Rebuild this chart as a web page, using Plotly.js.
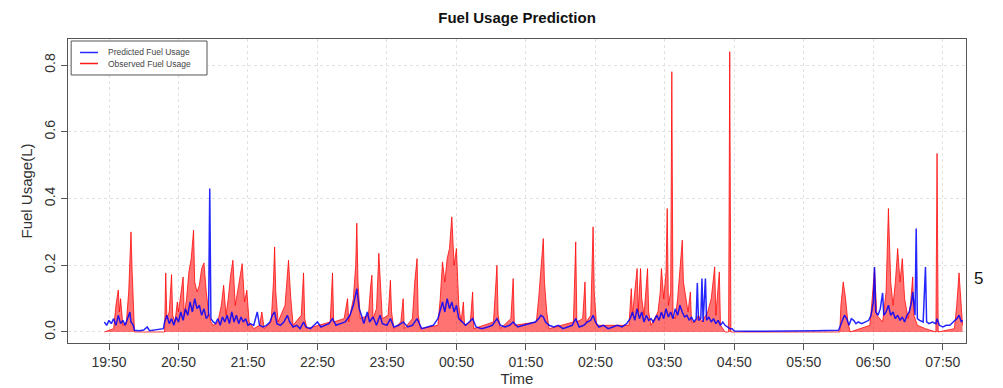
<!DOCTYPE html>
<html>
<head>
<meta charset="utf-8">
<script src="https://cdn.plot.ly/plotly-3.0.1.min.js"></script>
<style>html,body{margin:0;padding:0;background:#fff;}#chart{width:1003px;height:388px;}</style>
</head>
<body>
<div id="chart"></div>
<script>
// Observed fuel usage (red), key readings
const observedTimes = [
"19:46","19:54","19:56","19:58","19:59","20:00","20:02","20:05","20:07","20:09","20:10","20:11","20:12",
"20:38","20:39","20:40","20:42","20:44","20:45","20:47","20:49","20:50","20:52","20:54","20:55","20:57","20:59","21:01","21:03","21:04","21:06","21:08","21:10","21:12","21:14","21:16","21:18","21:20","21:24","21:27","21:29","21:31","21:33","21:35","21:37","21:39","21:41","21:43","21:45","21:47","21:49","21:51","21:55",
"22:00","22:02","22:04","22:10","22:12","22:13","22:14","22:16","22:22","22:24","22:25","22:27","22:29","22:36","22:38","22:39","22:41",
"23:01","23:03","23:04","23:13","23:16","23:17","23:21","23:23","23:24","23:25","23:27","23:34","23:36","23:37","23:38","23:41","23:43","23:44","23:46","23:51","23:53","23:54","23:56",
"00:02","00:04","00:05","00:12","00:14","00:16","00:17","00:19","00:34","00:36","00:38","00:40","00:42","00:44","00:46","00:48","00:50","00:52","00:54","00:56","00:57",
"01:02","01:04","01:05","01:22","01:25","01:26","01:28","01:37","01:39","01:40","01:59","02:01","02:03","02:05","02:06","02:08","02:10",
"02:31","02:33","02:34","02:39","02:41","02:42","02:46","02:48","02:49","02:51",
"03:19","03:21","03:22","03:24","03:26","03:27","03:29","03:30","03:32","03:35","03:36","03:38","03:44","03:46","03:47","03:49","03:51","03:52","03:53","03:55","03:56","03:57","03:59",
"04:01","04:03","04:05","04:06","04:08","04:10","04:12","04:13","04:16","04:19","04:22","04:27","04:30","04:33","04:34","04:37","04:38","04:42","04:45","04:46","04:47",
"06:21","06:22","06:24","06:26","06:28","06:30","06:47","06:49","06:51","06:53","06:58","07:01","07:03","07:05","07:07","07:09","07:11","07:13","07:15","07:17","07:20","07:22","07:24","07:25","07:28","07:35","07:44","07:45","07:46",
"08:00","08:02","08:04","08:06","08:07"
];
const observedValues = [
0,0.01,0.08,0.126,0.06,0.10,0.02,0.03,0.12,0.30,0.18,0.05,0,
0,0.177,0.04,0.06,0.172,0.05,0.03,0.09,0.06,0.12,0.165,0.05,0.10,0.18,0.22,0.305,0.15,0.12,0.14,0.19,0.207,0.12,0.06,0.03,0.02,0.03,0.08,0.14,0.05,0.10,0.17,0.215,0.08,0.12,0.17,0.205,0.09,0.125,0.03,0.01,
0.02,0.06,0.01,0.03,0.15,0.255,0.12,0.03,0.08,0.19,0.215,0.10,0.02,0.05,0.177,0.04,0.01,
0.03,0.177,0.03,0.04,0.10,0.03,0.10,0.20,0.326,0.15,0.04,0.05,0.14,0.17,0.04,0.07,0.236,0.18,0.04,0.05,0.155,0.06,0.01,
0.03,0.10,0.01,0.04,0.15,0.22,0.05,0.01,0.02,0.10,0.21,0.15,0.22,0.25,0.345,0.20,0.25,0.08,0.03,0.09,0.02,
0.03,0.12,0.01,0.03,0.20,0.05,0.01,0.04,0.16,0.02,0.03,0.10,0.18,0.28,0.15,0.06,0.01,
0.03,0.27,0.03,0.04,0.15,0.03,0.05,0.315,0.12,0.02,
0.02,0.13,0.05,0.12,0.19,0.06,0.19,0.10,0.05,0.19,0.06,0.02,0.06,0.12,0.19,0.10,0.18,0.37,0.08,0.12,0.78,0.05,0.04,
0.10,0.18,0.275,0.15,0.10,0.06,0.12,0.03,0.03,0.05,0.03,0.06,0.10,0.195,0.05,0.18,0.02,0,0,0.84,0,
0,0.08,0.15,0.10,0.03,0,0.02,0.10,0.19,0.05,0.03,0.12,0.37,0.15,0.08,0.15,0.25,0.15,0.22,0.10,0.04,0.08,0.165,0.05,0.02,0.01,0,0.535,0,
0.01,0.08,0.177,0.06,0.02
];

// Predicted fuel usage (blue)
const predictedTimes = [
"19:46","19:48","19:50","19:52","19:54","19:56","19:58","20:00","20:02","20:04","20:06","20:08","20:09","20:11","20:12","20:16","20:20","20:23","20:25","20:30","20:34","20:37",
"20:38","20:40","20:42","20:44","20:46","20:48","20:50","20:52","20:54","20:56","20:58","21:00","21:02","21:04","21:06","21:08","21:10","21:12","21:14","21:16","21:17","21:18","21:20","21:22","21:24","21:26","21:28","21:30","21:32","21:34","21:36","21:38","21:40","21:42","21:44","21:46","21:48","21:50","21:52","21:55","21:58",
"22:00","22:03","22:06","22:09","22:11","22:13","22:15","22:18","22:21","22:24","22:26","22:29","22:32","22:35","22:38","22:40","22:44","22:47","22:50","22:53","22:57",
"23:00","23:03","23:06","23:10","23:14","23:18","23:21","23:24","23:26","23:28","23:30","23:33","23:35","23:38","23:41","23:44","23:46","23:50","23:53","23:56",
"00:00","00:04","00:08","00:12","00:16","00:20","00:25","00:30","00:34","00:36","00:38","00:40","00:42","00:44","00:46","00:48","00:50","00:52","00:55","00:58",
"01:01","01:04","01:07","01:12","01:17","01:21","01:25","01:28","01:32","01:36","01:39","01:43","01:48","01:53","01:58",
"02:01","02:03","02:05","02:07","02:10","02:14","02:18","02:22","02:26","02:30","02:33","02:36","02:40","02:43","02:46","02:48","02:50","02:53","02:57",
"03:01","03:05","03:09","03:13","03:17","03:20","03:22","03:24","03:26","03:28","03:30","03:32","03:34","03:36","03:38","03:40","03:43","03:45","03:47","03:49","03:51","03:53","03:55","03:57","03:59",
"04:01","04:03","04:05","04:07","04:09","04:11","04:13","04:15","04:17","04:18","04:19","04:21","04:22","04:23","04:25","04:26","04:28","04:30","04:32","04:34","04:36","04:38","04:40","04:42","04:44","04:46","04:48","04:50",
"05:00","05:20","05:40","06:00","06:20",
"06:23","06:25","06:27","06:29","06:31","06:33","06:35","06:37","06:40","06:43","06:46","06:48","06:50","06:51","06:52","06:54","06:56","06:58","06:59",
"07:01","07:03","07:05","07:07","07:09","07:11","07:13","07:15","07:17","07:19","07:21","07:23","07:24","07:26","07:27","07:28","07:30","07:33","07:35","07:36","07:38","07:41","07:44","07:45","07:47","07:50","07:53","07:56","07:59",
"08:02","08:04","08:06","08:07"
];
const predictedValues = [
0.03,0.02,0.035,0.025,0.04,0.02,0.05,0.025,0.035,0.02,0.04,0.06,0.03,0.02,0.005,0.004,0.006,0.015,0.004,0.006,0.008,0.01,
0.03,0.05,0.025,0.04,0.02,0.045,0.03,0.06,0.035,0.07,0.05,0.09,0.06,0.10,0.07,0.08,0.05,0.07,0.04,0.05,0.43,0.04,0.03,0.025,0.04,0.02,0.045,0.03,0.05,0.025,0.06,0.03,0.05,0.025,0.045,0.03,0.04,0.02,0.025,0.02,0.06,
0.02,0.015,0.02,0.03,0.05,0.06,0.025,0.02,0.03,0.05,0.03,0.015,0.02,0.01,0.03,0.015,0.01,0.02,0.03,0.015,0.02,
0.025,0.04,0.02,0.025,0.03,0.05,0.08,0.13,0.07,0.05,0.025,0.06,0.03,0.045,0.02,0.05,0.025,0.02,0.04,0.015,
0.02,0.03,0.015,0.02,0.04,0.01,0.015,0.02,0.04,0.07,0.09,0.06,0.10,0.07,0.09,0.06,0.08,0.04,0.03,0.02,
0.03,0.04,0.015,0.01,0.015,0.02,0.04,0.02,0.015,0.02,0.03,0.015,0.02,0.025,0.03,
0.04,0.05,0.045,0.03,0.02,0.015,0.02,0.01,0.015,0.02,0.04,0.015,0.02,0.03,0.035,0.05,0.03,0.015,0.02,
0.01,0.015,0.02,0.015,0.025,0.04,0.06,0.035,0.07,0.04,0.06,0.03,0.05,0.035,0.04,0.03,0.05,0.035,0.06,0.04,0.07,0.045,0.06,0.04,0.07,
0.05,0.08,0.06,0.045,0.05,0.035,0.045,0.03,0.04,0.147,0.035,0.04,0.16,0.03,0.16,0.035,0.045,0.03,0.04,0.025,0.035,0.02,0.03,0.02,0.015,0.01,0.01,0.003,
0.002,0.002,0.003,0.004,0.005,
0.03,0.05,0.04,0.02,0.04,0.035,0.025,0.03,0.025,0.03,0.035,0.05,0.09,0.195,0.06,0.05,0.07,0.117,0.05,
0.06,0.08,0.05,0.06,0.04,0.05,0.035,0.045,0.03,0.05,0.06,0.09,0.12,0.05,0.31,0.04,0.035,0.03,0.195,0.03,0.025,0.03,0.025,0.04,0.02,0.015,0.02,0.02,0.03,
0.04,0.05,0.03,0.035
];

const xTickLabels = ["19:50","20:50","21:50","22:50","23:50","00:50","01:50","02:50","03:50","04:50","05:50","06:50","07:50"];
const yTickValues = [0, 0.2, 0.4, 0.6, 0.8];
const legendLabels = ["Predicted Fuel Usage", "Observed Fuel Usage"];

// evening hours belong to day 1, early-morning hours to day 2
function toDate(hm) {
  const h = parseInt(hm.slice(0, 2), 10);
  return (h >= 12 ? "2021-01-01 " : "2021-01-02 ") + hm;
}

const font = "Liberation Sans, Arial, Helvetica, sans-serif";
const blue = "rgba(0,0,255,0.85)";
const red = "rgba(255,0,0,0.75)";

const observed = {
  x: observedTimes.map(toDate), y: observedValues,
  type: "scatter", mode: "lines", name: legendLabels[1],
  line: {color: red, width: 1},
  fill: "tozeroy", fillcolor: "rgba(255,0,0,0.55)"
};
const predicted = {
  x: predictedTimes.map(toDate), y: predictedValues,
  type: "scatter", mode: "lines", name: legendLabels[0],
  line: {color: blue, width: 1.5}
};

// legend drawn as a small boxed key in the top-left corner (paper coords)
const legY = [0.9556, 0.9194];
const legColors = [blue, "rgba(255,0,0,0.9)"];
const shapes = [{
  type: "rect", xref: "paper", yref: "paper", x0: 0.0035, x1: 0.1548, y0: 0.8816, y1: 0.9934,
  line: {color: "#555", width: 1}, fillcolor: "#fff", layer: "above"
}];
const annotations = [];
legendLabels.forEach((lab, i) => {
  shapes.push({type: "line", xref: "paper", yref: "paper", x0: 0.0134, x1: 0.0334, y0: legY[i], y1: legY[i],
    line: {color: legColors[i], width: 1.5}, layer: "above"});
  annotations.push({text: lab, xref: "paper", yref: "paper", x: 0.042, y: legY[i], xanchor: "left", yanchor: "middle",
    showarrow: false, font: {size: 8.5, color: "#444", family: font}});
});
annotations.push({
  text: "5", xref: "paper", yref: "paper", x: 1.021, y: 0.174,
  showarrow: false, font: {size: 17, color: "#111", family: font}
});

const layout = {
  width: 1003, height: 388,
  margin: {l: 68, r: 37, t: 39, b: 45},
  paper_bgcolor: "#fff", plot_bgcolor: "#fff",
  font: {family: font, color: "#333"},
  title: {text: "<b>Fuel Usage Prediction</b>", font: {size: 15, color: "#111", family: font}, x: 0.5155, xanchor: "center", y: 0.955, yanchor: "middle"},
  showlegend: false,
  xaxis: {
    type: "date",
    range: ["2021-01-01 19:14:36", "2021-01-02 08:10"],
    tickvals: xTickLabels.map(toDate), ticktext: xTickLabels,
    ticks: "outside", ticklen: 6, tickcolor: "#555",
    tickfont: {size: 14, color: "#333"},
    showline: true, linecolor: "#555", mirror: true, linewidth: 1,
    showgrid: true, gridcolor: "#e2e2e2", griddash: "dot", gridwidth: 1,
    zeroline: false,
    title: {text: "Time", font: {size: 15, color: "#333"}, standoff: 2}
  },
  yaxis: {
    range: [-0.033, 0.878],
    tickvals: yTickValues, tickformat: ".1f",
    tickangle: -90,
    ticks: "outside", ticklen: 6, tickcolor: "#555",
    tickfont: {size: 14, color: "#333"},
    showline: true, linecolor: "#555", mirror: true, linewidth: 1,
    showgrid: true, gridcolor: "#e2e2e2", griddash: "dot", gridwidth: 1,
    zeroline: false,
    title: {text: "Fuel Usage(L)", font: {size: 15, color: "#333"}, standoff: 6}
  },
  shapes: shapes,
  annotations: annotations
};

Plotly.newPlot("chart", [observed, predicted], layout, {displayModeBar: false, staticPlot: true});
</script>
</body>
</html>
